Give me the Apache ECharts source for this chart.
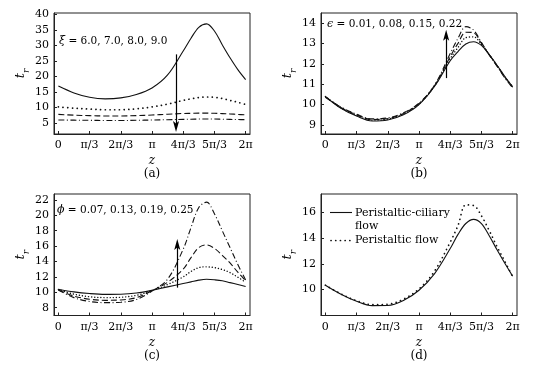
<!DOCTYPE html>
<html><head><meta charset="utf-8">
<script src="https://cdn.jsdelivr.net/npm/echarts@6/dist/echarts.min.js"></script>
<style>html,body{margin:0;padding:0;background:#fff}#c{width:552px;height:365px}</style>
</head><body><div id="c"></div>
<script>
// z positions in units of pi/3
const zA = [0,0.5,1,1.5,2,2.5,3,3.5,4,4.25,4.5,4.75,5,5.25,5.5,5.75,6];
const xTickValues = [0,1,2,3,4,5,6];
const xTickLabels = ['0','π/3','2π/3','π','4π/3','5π/3','2π'];

// (a) xi = 6.0, 7.0, 8.0, 9.0
const aXi60 = [16.9,14.7,13.3,12.8,13.1,14.2,16.3,20.5,28.2,32.3,35.8,36.9,34.6,30.2,26.0,22.2,19.0];
const aXi70 = [10.2,9.8,9.5,9.3,9.3,9.6,10.2,11.1,12.3,12.8,13.2,13.4,13.3,12.9,12.3,11.7,11.0];
const aXi80 = [7.8,7.55,7.4,7.3,7.3,7.4,7.6,7.85,8.1,8.15,8.2,8.2,8.15,8.05,7.95,7.8,7.65];
const aXi90 = [6.0,5.95,5.9,5.85,5.85,5.9,6.0,6.1,6.2,6.25,6.3,6.3,6.3,6.25,6.2,6.15,6.1];
const aYTicks = [5,10,15,20,25,30,35,40];
const aArrow = [[3.77,27.1],[3.77,3.9]];

// (b) epsilon = 0.01, 0.08, 0.15, 0.22
const bE001 = [10.4,9.82,9.44,9.2,9.25,9.5,10.0,10.9,12.15,12.6,12.97,13.08,12.9,12.45,11.93,11.38,10.88];
const bE008 = [10.4,9.84,9.47,9.24,9.29,9.54,10.03,10.92,12.25,12.8,13.28,13.32,12.95,12.45,11.92,11.36,10.87];
const bE015 = [10.38,9.86,9.5,9.27,9.32,9.57,10.05,10.94,12.35,13.0,13.55,13.52,13.0,12.45,11.9,11.34,10.85];
const bE022 = [10.36,9.88,9.53,9.3,9.35,9.6,10.07,10.96,12.5,13.25,13.82,13.65,13.05,12.44,11.88,11.31,10.82];
const bYTicks = [9,10,11,12,13,14];
const bArrow = [[3.87,11.3],[3.87,13.4]];

// (c) phi = 0.07, 0.13, 0.19, 0.25
const cP007 = [10.4,10.05,9.83,9.72,9.74,9.9,10.25,10.7,11.13,11.35,11.57,11.68,11.62,11.5,11.25,11.0,10.75];
const cP013 = [10.35,9.75,9.42,9.3,9.35,9.6,10.2,11.0,12.0,12.7,13.2,13.3,13.2,12.95,12.55,11.95,11.3];
const cP019 = [10.3,9.5,9.1,8.95,9.0,9.3,10.2,11.3,13.0,14.5,15.8,16.15,15.7,14.8,13.8,12.6,11.5];
const cP025 = [10.3,9.3,8.8,8.65,8.7,9.05,10.15,11.7,15.6,18.4,21.0,21.7,20.2,18.0,15.8,13.6,11.6];
const cYTicks = [8,10,12,14,16,18,20,22];
const cArrow = [[3.81,10.6],[3.81,16.2]];

// (d)
const dPeriCiliary = [10.34,9.64,9.09,8.75,8.76,9.15,9.95,11.25,13.2,14.3,15.15,15.47,15.15,14.2,13.1,12.05,11.05];
const dPeri = [10.34,9.66,9.13,8.83,8.86,9.25,10.05,11.45,13.7,15.0,16.6,16.55,15.75,14.6,13.35,12.2,11.0];
const dYTicks = [10,12,14,16];
const dLegend = ['Peristaltic-ciliary', 'flow', 'Peristaltic flow'];

const FONT = 'DejaVu Serif';
const INK = '#111';
const LS = {
  solid: {type:'solid', width:1.1},
  dot: {type:[0.1,4.6], width:1.7, cap:'round'},
  dotFine: {type:[0.1,3], width:1.4, cap:'round'},
  dash: {type:[6,3], width:1.1},
  dashdot: {type:[6,2.5,1,2.5], width:1.1}
};
const grids = [
  {left:54, top:13, width:196, height:121},
  {left:321, top:13, width:196, height:121},
  {left:54, top:194, width:196, height:121.5},
  {left:321, top:194, width:196, height:121.5}
];
const yRanges = [[1.5,40.4],[8.56,14.49],[6.98,22.76],[7.98,17.45]];
const yTicks = [aYTicks,bYTicks,cYTicks,dYTicks];

function pairs(vals){ return zA.map((z,i)=>[z, vals[i]]); }
function line(gi, vals, style, name){
  return {type:'line', name:name, xAxisIndex:gi, yAxisIndex:gi, data:pairs(vals),
    symbol:'none', showSymbol:false, smooth:0.35, silent:true,
    lineStyle:Object.assign({color:INK}, style), z:3};
}
function arrow(gi, a){
  return {type:'line', xAxisIndex:gi, yAxisIndex:gi, data:[], silent:true,
    markLine:{silent:true, symbol:['none','path://M5,0 L10,18 L5,14 L0,18 Z'], symbolSize:11,
      symbolKeepAspect:true,
      label:{show:false}, lineStyle:{color:'#000', type:'solid', width:1.2},
      itemStyle:{color:'#000'},
      emphasis:{disabled:true}, animation:false,
      data:[[{coord:a[0]},{coord:a[1]}]]}, z:5};
}

const xAxes = grids.map((g,i)=>({
  type:'value', gridIndex:i, min:-0.14, max:6.14,
  axisLine:{show:true, onZero:false, lineStyle:{color:'#222', width:1}},
  axisTick:{show:true, inside:true, length:3, customValues:xTickValues, lineStyle:{color:'#222'}},
  axisLabel:{customValues:xTickValues, formatter:(v)=>xTickLabels[xTickValues.indexOf(Math.round(v))],
    fontFamily:FONT, fontSize:11, color:'#000', margin:6},
  splitLine:{show:false},
  name:'z', nameLocation:'middle', nameGap:21,
  nameTextStyle:{fontFamily:FONT, fontStyle:'italic', fontSize:12, color:'#000'}
}));
const yAxes = grids.map((g,i)=>({
  type:'value', gridIndex:i, min:yRanges[i][0], max:yRanges[i][1],
  axisLine:{show:true, onZero:false, lineStyle:{color:'#222', width:1}},
  axisTick:{show:true, inside:true, length:3, customValues:yTicks[i], lineStyle:{color:'#222'}},
  axisLabel:{customValues:yTicks[i], fontFamily:FONT, fontSize:11, color:'#000', margin:5},
  splitLine:{show:false},
  name:'{t|t}{r|r}', nameLocation:'middle', nameGap:22, nameRotate:90,
  nameTextStyle:{rich:{
    t:{fontFamily:FONT, fontStyle:'italic', fontSize:13, color:'#000', lineHeight:20},
    r:{fontFamily:FONT, fontStyle:'italic', fontSize:9, color:'#000', verticalAlign:'bottom'}
  }}
}));

const series = [
  line(0, aXi60, LS.solid, 'ξ=6.0'),
  line(0, aXi70, LS.dot, 'ξ=7.0'),
  line(0, aXi80, LS.dash, 'ξ=8.0'),
  line(0, aXi90, LS.dashdot, 'ξ=9.0'),
  arrow(0, aArrow),
  line(1, bE001, LS.solid, 'ϵ=0.01'),
  line(1, bE008, LS.dotFine, 'ϵ=0.08'),
  line(1, bE015, LS.dash, 'ϵ=0.15'),
  line(1, bE022, LS.dashdot, 'ϵ=0.22'),
  arrow(1, bArrow),
  line(2, cP007, LS.solid, 'ϕ=0.07'),
  line(2, cP013, LS.dotFine, 'ϕ=0.13'),
  line(2, cP019, LS.dash, 'ϕ=0.19'),
  line(2, cP025, LS.dashdot, 'ϕ=0.25'),
  arrow(2, cArrow),
  line(3, dPeriCiliary, LS.solid, dLegend[0]+' '+dLegend[1]),
  line(3, dPeri, LS.dot, dLegend[2])
];

function txt(x, y, text, size, opts){
  return Object.assign({type:'text', x:x, y:y, silent:true, z:10,
    style:Object.assign({text:text, fontFamily:FONT, fontSize:size, fill:'#000',
      align:'left', verticalAlign:'middle', textAlign:'left', textVerticalAlign:'middle'}, opts||{})});
}
const greekRich = {g:{fontFamily:FONT, fontStyle:'italic', fontSize:11, fill:'#000', color:'#000'},
                   n:{fontFamily:FONT, fontSize:10.5, fill:'#000', color:'#000'}};
const graphics = [
  txt(59, 41.5, '{g|ξ}{n| = 6.0, 7.0, 8.0, 9.0}', 10.5, {rich:greekRich}),
  txt(327, 24.5, '{g|ϵ}{n| = 0.01, 0.08, 0.15, 0.22}', 10.5, {rich:greekRich}),
  txt(57, 210.5, '{g|ϕ}{n| = 0.07, 0.13, 0.19, 0.25}', 10.5, {rich:greekRich}),
  txt(152, 174, '(a)', 12, {align:'center', textAlign:'center'}),
  txt(419, 174, '(b)', 12, {align:'center', textAlign:'center'}),
  txt(152, 355.5, '(c)', 12, {align:'center', textAlign:'center'}),
  txt(419, 355.5, '(d)', 12, {align:'center', textAlign:'center'}),
  {type:'line', silent:true, z:10, shape:{x1:330, y1:212.5, x2:352, y2:212.5},
    style:{stroke:INK, lineWidth:1.1}},
  {type:'line', silent:true, z:10, shape:{x1:331, y1:240.5, x2:353, y2:240.5},
    style:{stroke:INK, lineWidth:1.7, lineDash:[0.1,4.6], lineCap:'round'}},
  txt(355, 213, dLegend[0], 11),
  txt(355, 226.5, dLegend[1], 11),
  txt(355, 240, dLegend[2], 11)
];

const chart = echarts.init(document.getElementById('c'), null, {renderer:'canvas'});
chart.setOption({
  animation:false,
  backgroundColor:'#fff',
  grid: grids.map(g=>Object.assign({show:true, borderColor:'#222', borderWidth:1, backgroundColor:'transparent', containLabel:false}, g)),
  xAxis: xAxes,
  yAxis: yAxes,
  series: series,
  graphic: graphics
});
</script>
</body></html>
